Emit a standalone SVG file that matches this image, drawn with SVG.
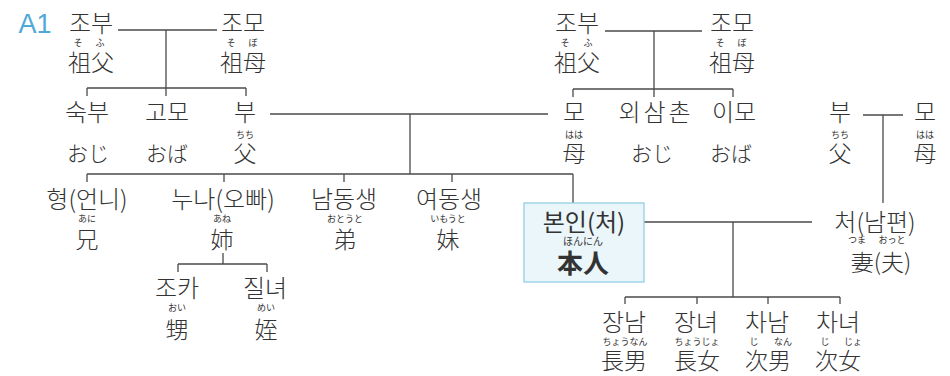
<svg xmlns="http://www.w3.org/2000/svg" width="950" height="376" viewBox="0 0 950 376">
<style>
text{fill:#333333;text-anchor:middle}
.k{font-family:"Noto Sans CJK KR","Noto Sans CJK JP",sans-serif;font-size:24px;font-weight:300}
.j{font-family:"Noto Sans CJK JP","Noto Sans CJK KR",sans-serif;font-size:23px;font-weight:300}
.h{font-family:"Noto Sans CJK JP","Noto Sans CJK KR",sans-serif;font-size:21px;font-weight:300}
.r{font-family:"Noto Sans CJK JP",sans-serif;font-size:9px}
.c line{stroke:#4a4a4a;stroke-width:1.3}
</style>
<rect width="950" height="376" fill="#ffffff"/>
<text x="35" y="33" style="font-family:'Liberation Sans',sans-serif;font-size:27px;fill:#4ea8d8">A1</text>
<g class="c" id="connectors">
<line x1="118" y1="30" x2="217" y2="30"/>
<line x1="166" y1="30" x2="166" y2="88"/>
<line x1="87" y1="88" x2="246" y2="88"/>
<line x1="87" y1="88" x2="87" y2="96"/>
<line x1="166" y1="88" x2="166" y2="96"/>
<line x1="246" y1="88" x2="246" y2="96"/>
<line x1="605" y1="31" x2="702" y2="31"/>
<line x1="654" y1="31" x2="654" y2="89"/>
<line x1="573" y1="89" x2="733" y2="89"/>
<line x1="573" y1="89" x2="573" y2="97"/>
<line x1="654" y1="89" x2="654" y2="97"/>
<line x1="733" y1="89" x2="733" y2="97"/>
<line x1="270" y1="114" x2="548" y2="114"/>
<line x1="410" y1="114" x2="410" y2="174"/>
<line x1="87" y1="174" x2="573" y2="174"/>
<line x1="87" y1="174" x2="87" y2="182"/>
<line x1="224" y1="174" x2="224" y2="182"/>
<line x1="344" y1="174" x2="344" y2="182"/>
<line x1="452" y1="174" x2="452" y2="182"/>
<line x1="573" y1="174" x2="573" y2="203"/>
<line x1="863" y1="115" x2="903" y2="115"/>
<line x1="883" y1="115" x2="883" y2="203"/>
<line x1="644" y1="222" x2="812" y2="222"/>
<line x1="733" y1="222" x2="733" y2="297"/>
<line x1="625" y1="297" x2="840" y2="297"/>
<line x1="625" y1="297" x2="625" y2="304"/>
<line x1="697" y1="297" x2="697" y2="304"/>
<line x1="768" y1="297" x2="768" y2="304"/>
<line x1="840" y1="297" x2="840" y2="304"/>
<line x1="223" y1="253" x2="223" y2="264"/>
<line x1="178" y1="264" x2="267" y2="264"/>
<line x1="178" y1="264" x2="178" y2="272"/>
<line x1="267" y1="264" x2="267" y2="272"/>
</g>
<g id="pgf"><text class="k" x="91" y="32">조부</text><text class="r" x="78" y="46">そ</text><text class="r" x="100" y="46">ふ</text><text class="j" x="91" y="71">祖父</text></g>
<g id="pgm"><text class="k" x="243" y="32">조모</text><text class="r" x="231" y="46">そ</text><text class="r" x="253" y="46">ぼ</text><text class="j" x="243" y="71">祖母</text></g>
<g id="mgf"><text class="k" x="577" y="32">조부</text><text class="r" x="565" y="46">そ</text><text class="r" x="588" y="46">ふ</text><text class="j" x="577" y="71">祖父</text></g>
<g id="mgm"><text class="k" x="732" y="32">조모</text><text class="r" x="720" y="46">そ</text><text class="r" x="742" y="46">ぼ</text><text class="j" x="732" y="71">祖母</text></g>
<g id="uncle"><text class="k" x="87" y="121">숙부</text><text class="h" x="88" y="161">おじ</text></g>
<g id="aunt"><text class="k" x="167" y="121">고모</text><text class="h" x="167" y="161">おば</text></g>
<g id="father"><text class="k" x="245" y="121">부</text><text class="r" x="245" y="138">ちち</text><text class="j" x="245" y="162">父</text></g>
<g id="mother"><text class="k" x="574" y="121">모</text><text class="r" x="574" y="138">はは</text><text class="j" x="574" y="162">母</text></g>
<g id="muncle"><text class="k" x="656" y="121" style="letter-spacing:3px">외삼촌</text><text class="h" x="652" y="161">おじ</text></g>
<g id="maunt"><text class="k" x="734" y="121">이모</text><text class="h" x="731" y="161">おば</text></g>
<g id="ifather"><text class="k" x="840" y="121">부</text><text class="r" x="840" y="138">ちち</text><text class="j" x="840" y="162">父</text></g>
<g id="imother"><text class="k" x="925" y="121">모</text><text class="r" x="925" y="138">はは</text><text class="j" x="925" y="162">母</text></g>
<g id="elderbro"><text class="k" x="87" y="208">형(언니)</text><text class="r" x="87" y="222">あに</text><text class="j" x="87" y="248">兄</text></g>
<g id="eldersis"><text class="k" x="223" y="208">누나(오빠)</text><text class="r" x="222" y="222">あね</text><text class="j" x="222" y="248">姉</text></g>
<g id="youngbro"><text class="k" x="344" y="208">남동생</text><text class="r" x="345" y="222">おとうと</text><text class="j" x="345" y="248">弟</text></g>
<g id="youngsis"><text class="k" x="449" y="208">여동생</text><text class="r" x="448" y="222">いもうと</text><text class="j" x="448" y="248">妹</text></g>
<g id="self"><rect x="524" y="203" width="120" height="79" fill="#eaf6fa" stroke="#92cfe5" stroke-width="1.3"/><text class="k" x="584" y="231" style="font-weight:400">본인(처)</text><text class="r" x="583" y="245" style="font-size:10px">ほんにん</text><text class="j" x="583" y="273" style="font-size:26px;font-weight:bold">本人</text></g>
<g id="spouse"><text class="k" x="875" y="231">처(남편)</text><text class="r" x="857" y="243">つま</text><text class="r" x="892" y="243">おっと</text><text class="j" x="881" y="271">妻(夫)</text></g>
<g id="nephew"><text class="k" x="177" y="297">조카</text><text class="r" x="177" y="311">おい</text><text class="j" x="177" y="338">甥</text></g>
<g id="niece"><text class="k" x="265" y="297">질녀</text><text class="r" x="266" y="311">めい</text><text class="j" x="266" y="338">姪</text></g>
<g id="son1"><text class="k" x="624" y="331">장남</text><text class="r" x="625" y="345">ちょうなん</text><text class="j" x="624" y="369">長男</text></g>
<g id="dau1"><text class="k" x="696" y="331">장녀</text><text class="r" x="697" y="345">ちょうじょ</text><text class="j" x="697" y="369">長女</text></g>
<g id="son2"><text class="k" x="767" y="331">차남</text><text class="r" x="754" y="345">じ</text><text class="r" x="783" y="345">なん</text><text class="j" x="768" y="369">次男</text></g>
<g id="dau2"><text class="k" x="838" y="331">차녀</text><text class="r" x="825" y="345">じ</text><text class="r" x="853" y="345">じょ</text><text class="j" x="838" y="369">次女</text></g>
</svg>
